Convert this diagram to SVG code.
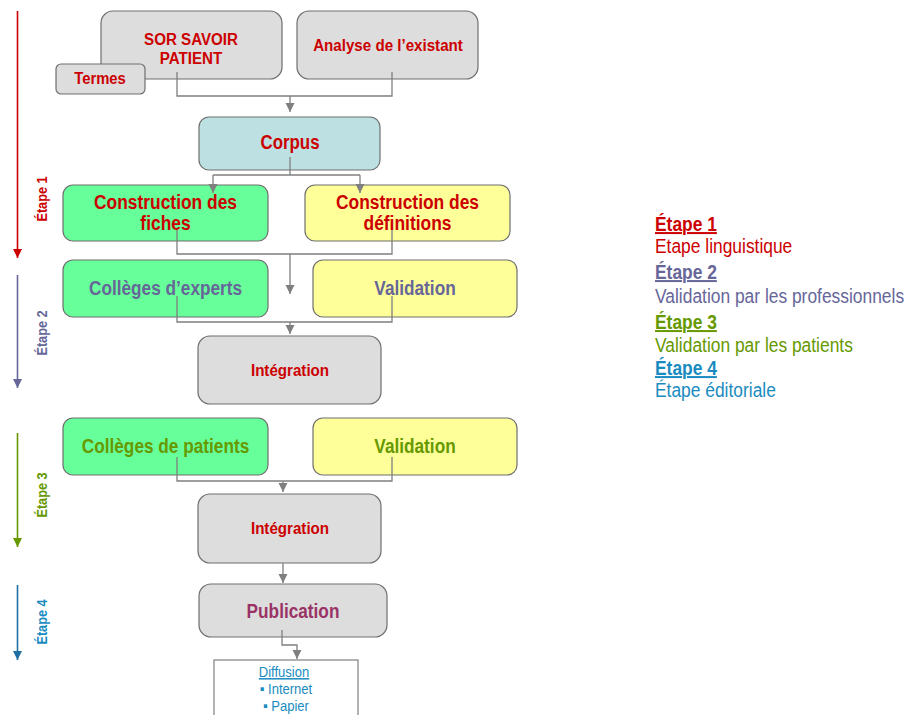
<svg xmlns="http://www.w3.org/2000/svg" width="907" height="715" viewBox="0 0 907 715">
<style>
  .box{stroke:#6f6f6f;stroke-width:1.2}
  .gray{fill:#dddddd}
  .blue{fill:#bde0e3}
  .green{fill:#66ff99}
  .yellow{fill:#ffff99}
  text{font-family:"Liberation Sans",Arial,sans-serif}
  .b{font-weight:bold;text-anchor:middle}
  .red{fill:#cc0000}
  .slate{fill:#666699}
  .olive{fill:#669900}
  .cyan{fill:#1a8bc0}
  .plum{fill:#993366}
  .conn{fill:none;stroke:#7f7f7f;stroke-width:1.3}
  .leg{font-size:20px}
  .legb{font-size:20px;font-weight:bold;text-decoration:underline}
  .side{font-size:14.6px;font-weight:bold;text-anchor:middle}
  .s17{font-size:17.4px}
  .s20{font-size:19.8px}
</style>
<defs>
  <marker id="ah" markerUnits="userSpaceOnUse" markerWidth="10" markerHeight="10" refX="9" refY="4.5" orient="auto">
    <path d="M0,0 L9,4.5 L0,9 z" fill="#7f7f7f"/>
  </marker>
  <marker id="ahr" markerUnits="userSpaceOnUse" markerWidth="10" markerHeight="10" refX="9" refY="4.5" orient="auto">
    <path d="M0,0 L9,4.5 L0,9 z" fill="#cc0000"/>
  </marker>
  <marker id="ahs" markerUnits="userSpaceOnUse" markerWidth="10" markerHeight="10" refX="9" refY="4.5" orient="auto">
    <path d="M0,0 L9,4.5 L0,9 z" fill="#666699"/>
  </marker>
  <marker id="aho" markerUnits="userSpaceOnUse" markerWidth="10" markerHeight="10" refX="9" refY="4.5" orient="auto">
    <path d="M0,0 L9,4.5 L0,9 z" fill="#669900"/>
  </marker>
  <marker id="ahc" markerUnits="userSpaceOnUse" markerWidth="10" markerHeight="10" refX="9" refY="4.5" orient="auto">
    <path d="M0,0 L9,4.5 L0,9 z" fill="#1f6fa3"/>
  </marker>
</defs>

<!-- Stage axis -->
<g id="stages">
  <g id="stage1">
    <line x1="17.5" y1="11" x2="17.5" y2="258" stroke="#cc0000" stroke-width="1.6" marker-end="url(#ahr)"/>
    <text class="side red" transform="matrix(0 -0.87 1 0 47 199)">Étape 1</text>
  </g>
  <g id="stage2">
    <line x1="17.5" y1="275" x2="17.5" y2="388" stroke="#666699" stroke-width="1.6" marker-end="url(#ahs)"/>
    <text class="side slate" transform="matrix(0 -0.87 1 0 47 333)">Étape 2</text>
  </g>
  <g id="stage3">
    <line x1="17.5" y1="433" x2="17.5" y2="547" stroke="#669900" stroke-width="1.6" marker-end="url(#aho)"/>
    <text class="side olive" transform="matrix(0 -0.87 1 0 47 495)">Étape 3</text>
  </g>
  <g id="stage4">
    <line x1="17.5" y1="585" x2="17.5" y2="660" stroke="#1f6fa3" stroke-width="1.6" marker-end="url(#ahc)"/>
    <text class="side cyan" transform="matrix(0 -0.87 1 0 47 622)">Étape 4</text>
  </g>
</g>

<!-- Nodes -->
<g id="sor">
  <rect class="box gray" x="101" y="11" width="181" height="68" rx="12"/>
  <text class="b red s17" transform="matrix(0.87 0 0 1 191 45)">SOR SAVOIR</text>
  <text class="b red s17" transform="matrix(0.87 0 0 1 191 64)">PATIENT</text>
</g>
<g id="termes">
  <rect class="box gray" x="56" y="64" width="89" height="30" rx="5"/>
  <text class="b red" font-size="17" transform="matrix(0.87 0 0 1 100 84)">Termes</text>
</g>
<g id="analyse">
  <rect class="box gray" x="297" y="11" width="181" height="68" rx="12"/>
  <text class="b red s17" transform="matrix(0.87 0 0 1 388 51)">Analyse de l’existant</text>
</g>
<g id="corpus">
  <rect class="box blue" x="199" y="117" width="181" height="53" rx="10"/>
  <text class="b red" font-size="19.4" transform="matrix(0.87 0 0 1 290 149)">Corpus</text>
</g>
<g id="fiches">
  <rect class="box green" x="63" y="185" width="205" height="56" rx="10"/>
  <text class="b red" font-size="20" transform="matrix(0.87 0 0 1 165.5 209)">Construction des</text>
  <text class="b red" font-size="20" transform="matrix(0.87 0 0 1 165.5 230)">fiches</text>
</g>
<g id="definitions">
  <rect class="box yellow" x="305" y="185" width="205" height="56" rx="10"/>
  <text class="b red" font-size="20" transform="matrix(0.87 0 0 1 407.5 209)">Construction des</text>
  <text class="b red" font-size="20" transform="matrix(0.87 0 0 1 407.5 230)">définitions</text>
</g>
<g id="experts">
  <rect class="box green" x="63" y="260" width="205" height="57" rx="10"/>
  <text class="b slate s20" transform="matrix(0.87 0 0 1 165.5 295)">Collèges d’experts</text>
</g>
<g id="validation2">
  <rect class="box yellow" x="313" y="260" width="204" height="57" rx="10"/>
  <text class="b slate s20" transform="matrix(0.87 0 0 1 415 295)">Validation</text>
</g>
<g id="integration1">
  <rect class="box gray" x="198" y="336" width="183" height="68" rx="12"/>
  <text class="b red s17" transform="matrix(0.87 0 0 1 290 376)">Intégration</text>
</g>
<g id="patients">
  <rect class="box green" x="63" y="418" width="205" height="57" rx="10"/>
  <text class="b olive s20" transform="matrix(0.87 0 0 1 165.5 453)">Collèges de patients</text>
</g>
<g id="validation3">
  <rect class="box yellow" x="313" y="418" width="204" height="57" rx="10"/>
  <text class="b olive s20" transform="matrix(0.87 0 0 1 415 453)">Validation</text>
</g>
<g id="integration2">
  <rect class="box gray" x="198" y="494" width="183" height="69" rx="12"/>
  <text class="b red s17" transform="matrix(0.87 0 0 1 290 534)">Intégration</text>
</g>
<g id="publication">
  <rect class="box gray" x="199" y="584" width="188" height="53" rx="12"/>
  <text class="b plum s20" transform="matrix(0.87 0 0 1 293 618)">Publication</text>
</g>
<g id="diffusion">
  <rect x="214" y="660" width="144" height="70" fill="#ffffff" stroke="#7f7f7f" stroke-width="1.2"/>
  <text class="cyan" font-size="15" text-anchor="middle" text-decoration="underline" transform="matrix(0.87 0 0 1 284 677)">Diffusion</text>
  <text class="cyan" font-size="15" text-anchor="middle" transform="matrix(0.87 0 0 1 286 694)">▪ Internet</text>
  <text class="cyan" font-size="15" text-anchor="middle" transform="matrix(0.87 0 0 1 286 711)">▪ Papier</text>
</g>

<!-- Connectors -->
<g id="connectors">
  <path class="conn" d="M177,72 V96 H392 V72"/>
  <path class="conn" d="M290,96 V112" marker-end="url(#ah)"/>
  <path class="conn" d="M290,157 V175"/>
  <path class="conn" d="M213,175 H360"/>
  <path class="conn" d="M213,175 V193" marker-end="url(#ah)"/>
  <path class="conn" d="M360,175 V193" marker-end="url(#ah)"/>
  <path class="conn" d="M177,230 V254 H392 V230"/>
  <path class="conn" d="M290,254 V294" marker-end="url(#ah)"/>
  <path class="conn" d="M177,296 V322 H392 V296"/>
  <path class="conn" d="M290,322 V334" marker-end="url(#ah)"/>
  <path class="conn" d="M177,457 V481 H392 V457"/>
  <path class="conn" d="M283,481 V492" marker-end="url(#ah)"/>
  <path class="conn" d="M283,563 V583" marker-end="url(#ah)"/>
  <path class="conn" d="M282,630 V645 H297 V659" marker-end="url(#ah)"/>
</g>

<!-- Legend -->
<g id="legend">
  <text class="legb red" transform="matrix(0.87 0 0 1 655 231)">Étape 1</text>
  <text class="leg red" transform="matrix(0.87 0 0 1 655 253)">Etape linguistique</text>
  <text class="legb slate" transform="matrix(0.87 0 0 1 655 279)">Étape 2</text>
  <text class="leg slate" transform="matrix(0.87 0 0 1 655 303)">Validation par les professionnels</text>
  <text class="legb olive" transform="matrix(0.87 0 0 1 655 329)">Étape 3</text>
  <text class="leg olive" transform="matrix(0.87 0 0 1 655 352)">Validation par les patients</text>
  <text class="legb cyan" transform="matrix(0.87 0 0 1 655 375)">Étape 4</text>
  <text class="leg cyan" transform="matrix(0.87 0 0 1 655 397)">Étape éditoriale</text>
</g>
</svg>
